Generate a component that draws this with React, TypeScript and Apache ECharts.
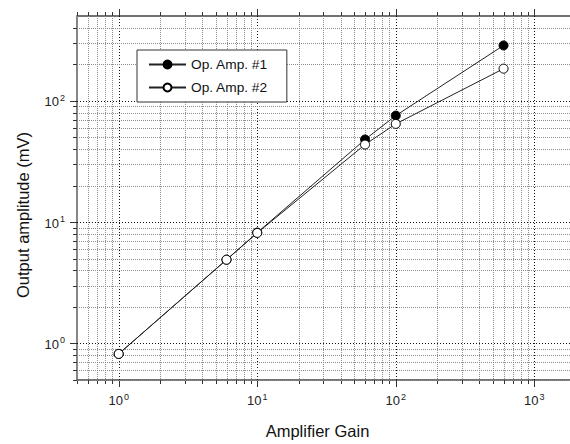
import React, { useEffect, useRef } from 'react';
import * as echarts from 'echarts';

// ---- data ----
const gains = [1, 6, 10, 60, 100, 600];
const opAmp1 = [0.82, 4.9, 8.2, 48, 75.5, 286];
const opAmp2 = [0.82, 4.9, 8.15, 43.6, 64.5, 184];
const seriesNames = ['Op. Amp. #1', 'Op. Amp. #2'];
const xRange = [0.5, 2000];
const yRange = [0.5, 500];
const xTitle = 'Amplifier Gain';
const yTitle = 'Output amplitude (mV)';

const FONT = 'Liberation Sans, Arial, Helvetica, sans-serif';

function logGrid(min: number, max: number): number[][] {
  const out: number[][] = [];
  for (let n = -2; n <= 5; n++) {
    for (let k = 1; k <= 9; k++) {
      const v = k * Math.pow(10, n);
      if (v >= min - 1e-9 && v < max - 1e-9) out.push([v, k === 1 ? 1 : 0]);
    }
  }
  return out;
}

function isDecade(v: number) {
  const l = Math.log10(v);
  return Math.abs(l - Math.round(l)) < 1e-6;
}

const labelFormatter = (v: number) => (isDecade(v) ? `{b|10}{s|${Math.round(Math.log10(v))}}` : '');

const richLabel = {
  b: { fontSize: 13, fontFamily: FONT, color: '#222', verticalAlign: 'bottom' as const },
  s: { fontSize: 9, fontFamily: FONT, color: '#222', verticalAlign: 'bottom' as const, padding: [0, 0, 6, 1] },
};

const MAJOR_GRID = { stroke: '#111', lineWidth: 1, lineDash: [1, 2] };
const MINOR_GRID = { stroke: '#8c8c8c', lineWidth: 1, lineDash: [1, 1] };
const TICK = { stroke: '#333', lineWidth: 1 };

function px(v: number) {
  return Math.round(v) + 0.5;
}

export default function App() {
  const ref = useRef<HTMLDivElement>(null);
  useEffect(() => {
    if (!ref.current) return;
    const chart = echarts.init(ref.current, undefined, { renderer: 'svg' });
    const xGrid = logGrid(xRange[0], xRange[1]).map(([v, m]) => [v, 1, m]);
    const yGrid = logGrid(yRange[0], yRange[1]).map(([v, m]) => [1, v, m]);

    const option: any = {
      animation: false,
      backgroundColor: '#fff',
      textStyle: { fontFamily: FONT },
      grid: {
        left: 77,
        top: 16,
        bottom: 62,
        right: 0,
        show: true,
        borderColor: '#444',
        borderWidth: 1.3,
        backgroundColor: 'transparent',
      },
      legend: {
        data: seriesNames,
        orient: 'vertical',
        left: 137,
        top: 50,
        itemWidth: 37,
        itemHeight: 10,
        itemGap: 9,
        padding: [7.5, 19, 7.5, 11],
        backgroundColor: '#fff',
        borderColor: '#333',
        borderWidth: 1,
        borderRadius: 0,
        textStyle: { fontSize: 13.7, color: '#111', fontFamily: FONT },
        selectedMode: false,
      },
      xAxis: {
        type: 'log',
        logBase: 10,
        min: xRange[0],
        max: xRange[1],
        name: xTitle,
        nameLocation: 'middle',
        nameGap: 42,
        nameTextStyle: { fontSize: 16.5, color: '#111', fontFamily: FONT, padding: [0, 18, 0, 0] },
        axisLine: { show: false },
        axisTick: { show: false },
        splitLine: { show: false },
        minorTick: { show: false },
        minorSplitLine: { show: false },
        axisLabel: { formatter: labelFormatter, rich: richLabel, margin: 12, showMinLabel: false, showMaxLabel: false },
      },
      yAxis: {
        type: 'log',
        logBase: 10,
        min: yRange[0],
        max: yRange[1],
        name: yTitle,
        nameLocation: 'middle',
        nameGap: 46,
        nameRotate: 90,
        nameTextStyle: { fontSize: 16.5, color: '#111', fontFamily: FONT, padding: [0, 34, 0, 0] },
        axisLine: { show: false },
        axisTick: { show: false },
        splitLine: { show: false },
        minorTick: { show: false },
        minorSplitLine: { show: false },
        axisLabel: { formatter: labelFormatter, rich: richLabel, margin: 12, showMinLabel: false, showMaxLabel: false },
      },
      series: [
        {
          type: 'custom',
          name: 'xgrid',
          clip: false,
          silent: true,
          z: 1,
          encode: { x: 0, y: 1 },
          data: xGrid,
          renderItem: (_p: any, api: any) => {
            const v = api.value(0);
            const major = api.value(2) === 1;
            const top = api.coord([v, yRange[1]]);
            const bot = api.coord([v, yRange[0]]);
            const x = px(top[0]);
            const len = major ? 7 : 4;
            return {
              type: 'group',
              children: [
                { type: 'line', shape: { x1: x, y1: top[1], x2: x, y2: bot[1] }, style: major ? MAJOR_GRID : MINOR_GRID },
                { type: 'line', shape: { x1: x, y1: bot[1], x2: x, y2: bot[1] + len }, style: TICK },
                { type: 'line', shape: { x1: x, y1: top[1] - len, x2: x, y2: top[1] }, style: TICK },
              ],
            };
          },
        },
        {
          type: 'custom',
          name: 'ygrid',
          clip: false,
          silent: true,
          z: 1,
          encode: { x: 0, y: 1 },
          data: yGrid,
          renderItem: (_p: any, api: any) => {
            const v = api.value(1);
            const major = api.value(2) === 1;
            const left = api.coord([xRange[0], v]);
            const right = api.coord([xRange[1], v]);
            const y = px(left[1]);
            const len = major ? 7 : 4;
            return {
              type: 'group',
              children: [
                { type: 'line', shape: { x1: left[0], y1: y, x2: right[0], y2: y }, style: major ? MAJOR_GRID : MINOR_GRID },
                { type: 'line', shape: { x1: left[0] - len, y1: y, x2: left[0], y2: y }, style: TICK },
                { type: 'line', shape: { x1: right[0], y1: y, x2: right[0] + len, y2: y }, style: TICK },
              ],
            };
          },
        },
        {
          type: 'line',
          name: seriesNames[0],
          z: 3,
          data: gains.map((g, i) => [g, opAmp1[i]]),
          symbol: 'circle',
          symbolSize: 9,
          lineStyle: { color: '#222', width: 1 },
          itemStyle: { color: '#000', borderColor: '#000', borderWidth: 1 },
        },
        {
          type: 'line',
          name: seriesNames[1],
          z: 3,
          data: gains.map((g, i) => [g, opAmp2[i]]),
          symbol: 'circle',
          symbolSize: 9,
          showAllSymbol: true,
          lineStyle: { color: '#222', width: 1 },
          itemStyle: { color: '#fff', borderColor: '#000', borderWidth: 1 },
        },
      ],
    };
    chart.setOption(option);
    return () => chart.dispose();
  }, []);
  return (
    <div style={{ position: 'absolute', left: 0, top: 0, width: 570, height: 444, overflow: 'hidden' }}>
      <div ref={ref} style={{ width: 576, height: 444 }} />
    </div>
  );
}
